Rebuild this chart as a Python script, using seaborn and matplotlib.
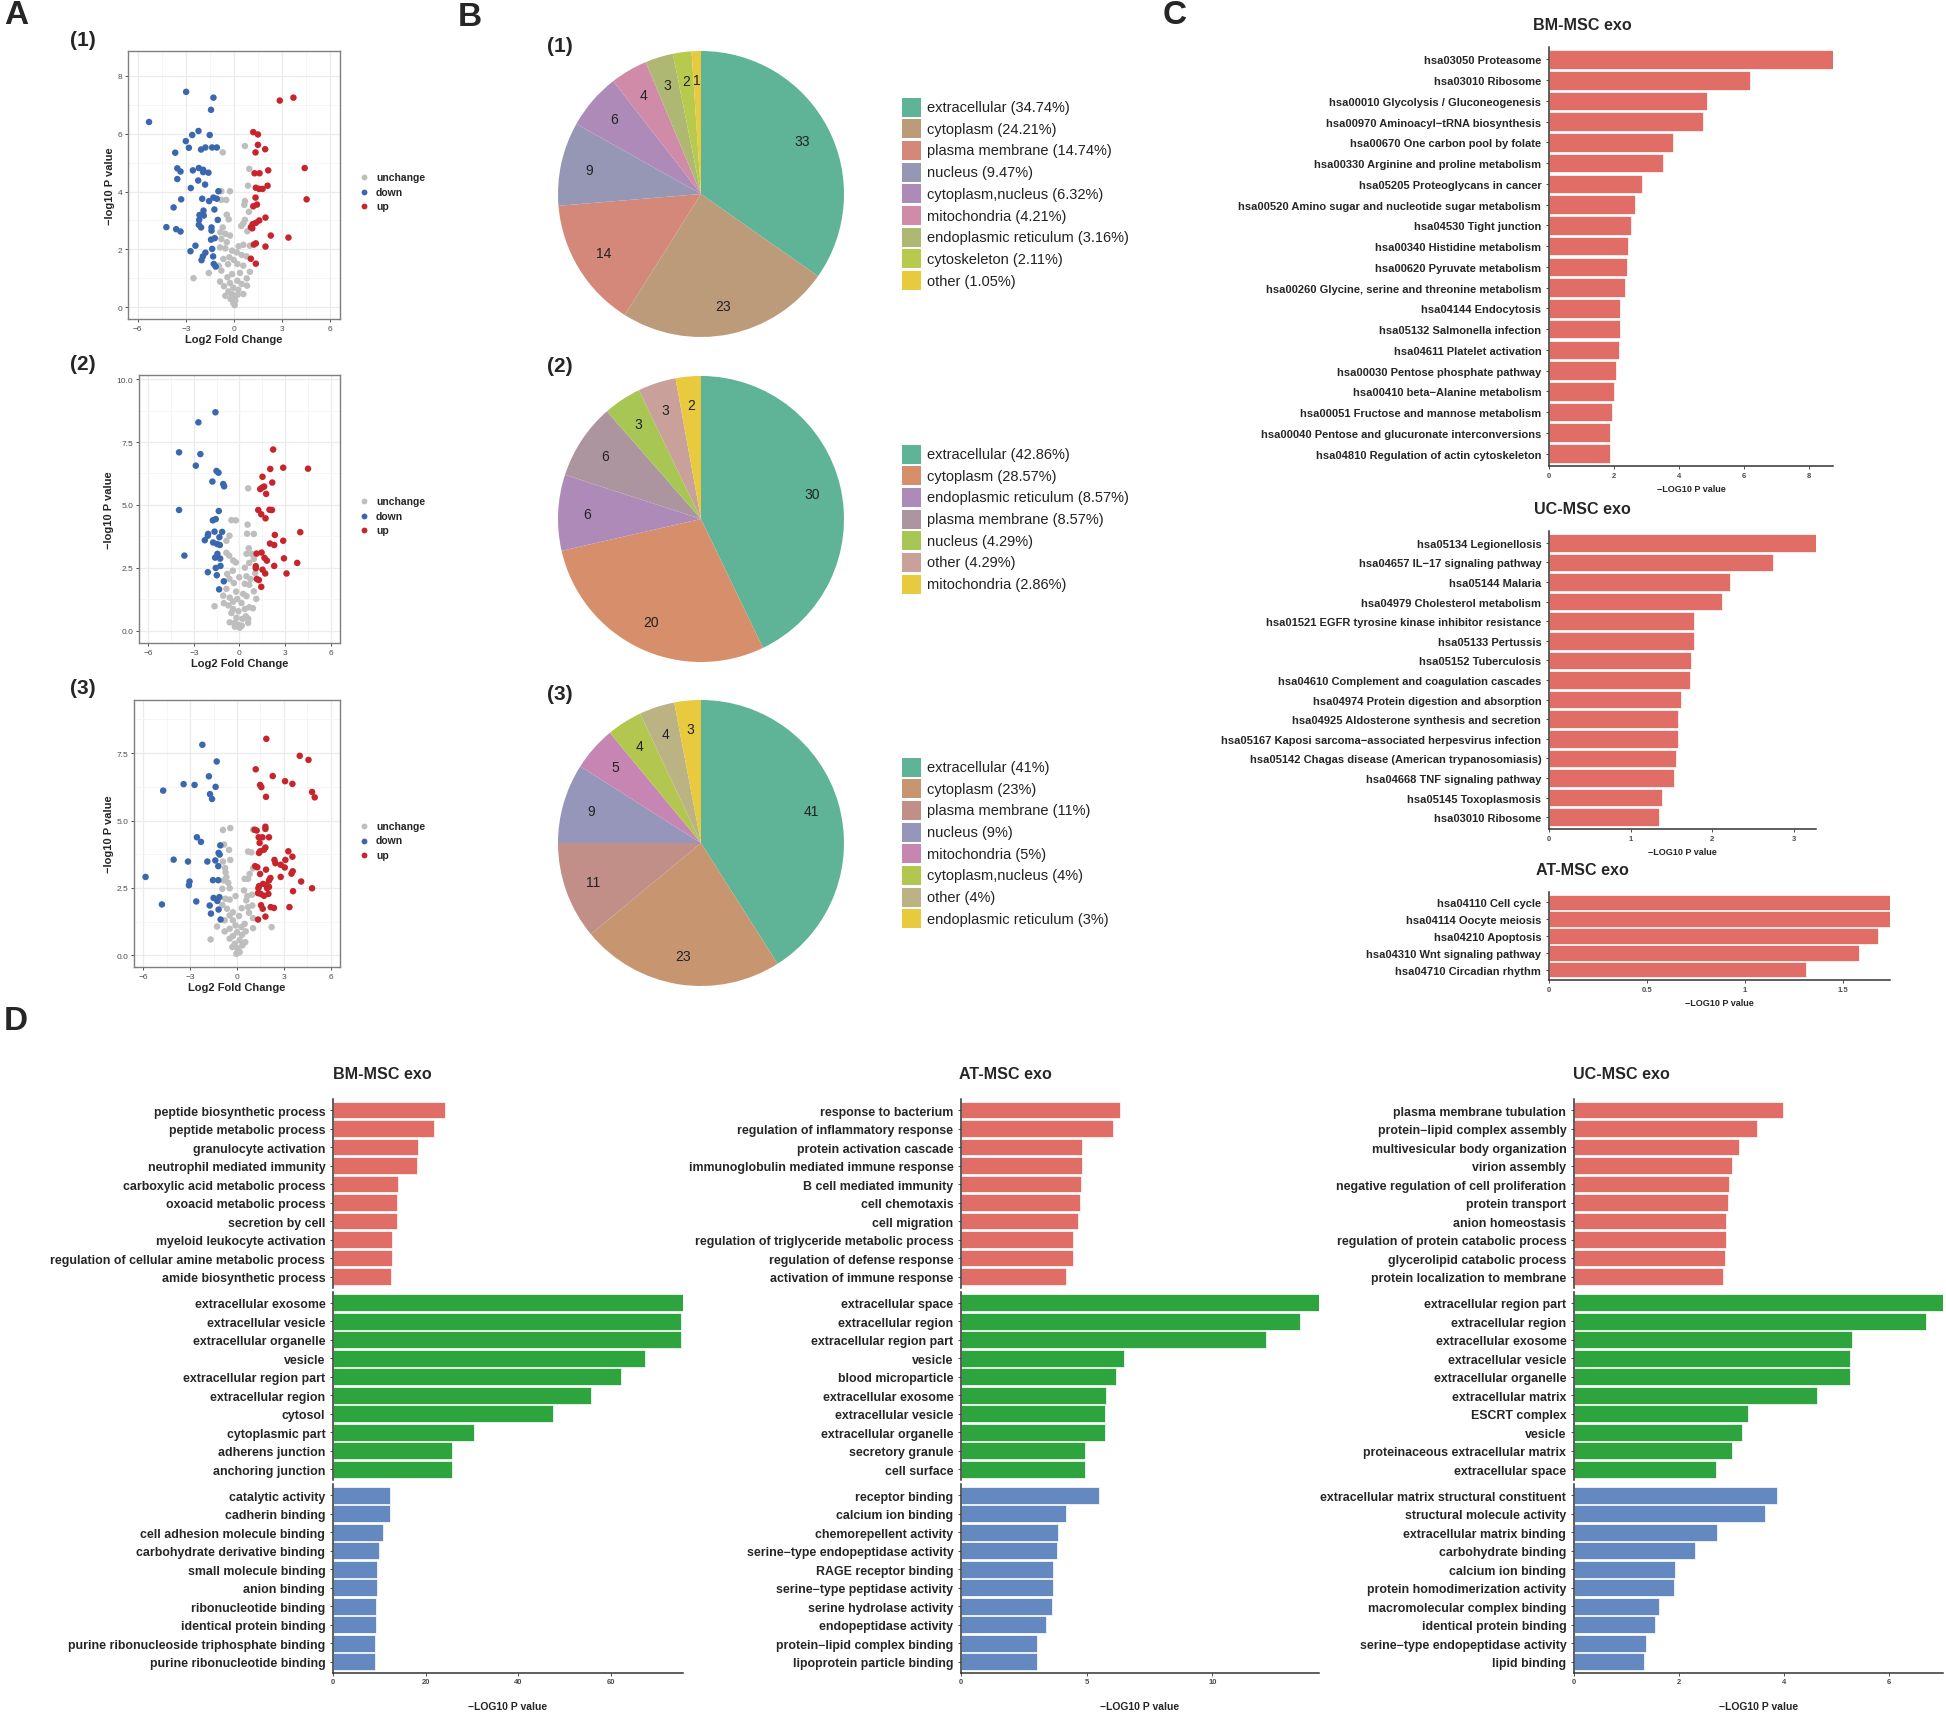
import numpy as np
import pandas as pd
import seaborn as sns
import matplotlib.pyplot as plt
from matplotlib import font_manager as fm
from matplotlib.patches import Rectangle
from matplotlib.lines import Line2D

sns.set_theme(style="white")
plt.rcParams['font.family'] = ['Liberation Sans', 'DejaVu Sans']

# a narrower face for the long category labels (Source-Sans-like latin of Noto CJK), else Arial-like
_names = {e.name for e in fm.fontManager.ttflist}
if 'Liberation Sans Narrow' in _names:
    LABEL_FAMILY = ['Liberation Sans Narrow', 'Liberation Sans', 'DejaVu Sans']
elif 'Noto Sans CJK SC' in _names:
    LABEL_FAMILY = ['Noto Sans CJK SC', 'Liberation Sans', 'DejaVu Sans']
else:
    LABEL_FAMILY = ['Liberation Sans', 'DejaVu Sans']
LABEL_FP = fm.FontProperties(family=LABEL_FAMILY, weight='bold')

# ---------------- data: volcano plots (log2FC, -log10 p) ----------------
v1_down = [(-2.98,7.44),(-1.28,7.24),(-1.43,6.82),(-5.29,6.40),(-2.21,6.09),(-2.60,5.95),(-1.51,5.95),(-3.00,5.74),
           (-2.81,5.51),(-2.05,5.45),(-1.78,5.52),(-1.36,5.52),(-1.07,5.52),(-3.66,5.34),(-3.53,4.80),(-3.33,4.69),
           (-2.56,4.73),(-2.19,4.81),(-1.92,4.75),(-1.92,4.67),(-1.59,4.65),(-3.53,4.43),(-2.23,4.38),(-1.80,4.24),
           (-2.69,4.12),(-0.97,4.01),(-3.29,3.73),(-1.98,3.75),(-1.28,3.79),(-1.55,3.67),(-1.07,3.75),(-3.76,3.45),
           (-1.22,3.38),(-1.90,3.34),(-2.15,3.19),(-1.88,3.17),(-2.17,3.02),(-1.01,3.02),(-4.21,2.77),(-3.60,2.70),
           (-3.33,2.62),(-2.19,2.85),(-2.05,2.76),(-1.40,2.76),(-1.40,2.65),(-1.20,2.39),(-1.43,2.34),(-2.40,2.13),
           (-1.36,2.02),(-2.71,1.94),(-1.78,1.89),(-1.94,1.76),(-1.30,1.76),(-2.02,1.63),(-1.26,1.50),(-1.14,1.41)]
v1_up = [(2.85,7.14),(3.70,7.24),(1.20,6.05),(1.49,5.97),(1.49,5.61),(1.94,5.46),(1.34,5.35),(4.40,4.81),
         (2.13,4.73),(1.28,4.63),(1.59,4.63),(2.09,4.20),(1.36,4.13),(1.57,4.09),(1.78,4.09),(4.52,3.73),
         (1.34,3.79),(1.43,3.55),(1.20,3.49),(1.96,3.10),(1.57,3.00),(1.36,2.92),(1.16,2.87),(1.05,2.77),
         (1.14,2.73),(2.29,2.48),(3.39,2.41),(1.36,2.21),(1.24,2.17),(1.96,2.10),(1.05,1.68),(1.36,1.51)]
v1_flat = [(0.68,5.57),(-0.70,5.35),(0.95,4.78),(0.87,4.20),(-0.79,4.01),(-0.25,4.01),(-0.79,3.71),(-0.48,3.71),
           (0.68,3.67),(0.64,3.54),(0.93,3.30),(-0.45,3.20),(-0.33,3.04),(0.68,3.02),(0.58,2.90),(0.45,2.81),
           (-0.70,2.76),(0.83,2.63),(-0.85,2.59),(-0.54,2.54),(-0.25,2.48),(-0.79,2.36),(-0.45,2.25),(0.99,2.13),
           (0.58,2.16),(0.29,2.11),(-0.87,2.07),(-0.54,2.04),(-0.12,1.96),(0.17,1.90),(0.48,1.81),(0.79,1.76),
           (-0.29,1.73),(-0.66,1.67),(-0.02,1.64),(-0.95,1.44),(-0.37,1.49),(0.21,1.50),(0.58,1.44),(-0.79,1.27),
           (0.99,1.23),(-1.57,1.19),(0.37,1.19),(-0.12,1.15),(-0.41,1.04),(0.79,1.00),(-2.52,1.01),(-0.87,0.89),
           (0.21,0.92),(-0.25,0.84),(0.48,0.81),(0.81,0.75),(-0.62,0.73),(-0.04,0.68),(0.27,0.61),(-0.35,0.55),
           (0.58,0.46),(-0.54,0.40),(-0.04,0.35),(-0.21,0.29),(0.08,0.23),(-0.04,0.15),(0.04,0.08),(-0.14,0.46),
           (0.21,0.43)]

v2_down = [(-1.58,8.68),(-2.70,8.28),(-3.97,7.09),(-2.57,7.02),(-2.87,6.56),(-1.51,6.35),(-1.38,6.28),(-1.78,5.93),
           (-1.07,5.83),(-1.01,5.74),(-3.97,4.80),(-1.36,4.76),(-1.75,4.39),(-1.56,4.44),(-1.64,3.94),(-1.14,3.93),
           (-2.06,3.85),(-2.08,3.78),(-1.32,3.72),(-2.28,3.60),(-1.73,3.51),(-1.47,3.45),(-1.29,3.41),(-1.45,3.06),
           (-3.62,2.99),(-1.60,2.91),(-1.27,2.87),(-1.25,2.58),(-1.56,2.50),(-2.08,2.33),(-1.49,2.21),(-1.03,1.97),
           (-1.34,1.65)]
v2_up = [(2.21,7.20),(2.02,6.43),(2.87,6.48),(4.50,6.44),(1.51,6.12),(2.15,5.89),(1.36,5.63),(1.49,5.69),
         (1.62,5.73),(1.75,5.44),(1.23,4.80),(1.97,4.81),(2.13,4.80),(1.43,4.63),(1.71,4.47),(3.99,3.92),
         (2.32,3.81),(2.87,3.58),(2.00,3.47),(2.28,3.41),(1.12,3.07),(1.45,3.11),(1.64,2.90),(1.80,2.79),
         (2.92,2.88),(3.79,2.70),(1.07,2.57),(1.07,2.49),(1.51,2.43),(2.28,2.58),(1.69,2.28),(3.09,2.28),
         (1.14,2.06),(1.27,2.02),(1.43,1.75)]
v2_flat = [(0.57,5.66),(-0.53,4.40),(-0.24,4.39),(0.53,4.22),(0.50,3.86),(0.94,3.85),(-0.66,3.78),(-0.86,3.58),
           (0.61,3.28),(-0.86,3.10),(0.46,3.06),(0.79,3.06),(-0.68,2.99),(0.94,2.86),(-0.42,2.80),(-0.24,2.72),
           (0.64,2.70),(0.35,2.51),(-0.44,2.39),(-0.81,2.26),(1.03,2.29),(0.46,2.17),(-0.02,2.13),(-0.66,2.06),
           (0.72,2.06),(-0.37,1.90),(0.35,1.87),(0.64,1.83),(-0.86,1.67),(0.94,1.57),(-0.22,1.56),(0.24,1.47),
           (-1.07,1.40),(-0.64,1.32),(0.46,1.38),(-0.15,1.27),(1.10,1.27),(-0.42,1.16),(0.13,1.11),(-1.03,1.10),
           (-1.64,0.98),(-0.72,1.01),(0.64,0.94),(0.35,0.87),(0.88,0.90),(-0.42,0.87),(-0.07,0.78),(-0.53,0.71),
           (0.42,0.58),(-0.20,0.52),(0.20,0.48),(0.57,0.48),(-0.64,0.34),(0.57,0.32),(-0.31,0.32),(-0.09,0.24),
           (0.15,0.21),(-0.31,0.17),(0.02,0.13)]

v3_down = [(-2.22,7.81),(-1.30,7.19),(-1.80,6.64),(-4.73,6.11),(-3.42,6.35),(-2.72,6.32),(-1.37,6.25),(-1.73,5.98),
           (-1.60,5.80),(-2.57,4.38),(-2.31,4.21),(-1.07,4.08),(-1.18,3.80),(-1.11,3.74),(-4.06,3.55),(-3.14,3.48),
           (-1.90,3.48),(-1.39,3.52),(-1.20,3.31),(-5.86,2.91),(-3.04,2.74),(-3.08,2.60),(-1.54,2.79),(-1.20,2.79),
           (-1.50,2.13),(-1.13,2.16),(-1.26,2.02),(-2.61,2.00),(-4.81,1.89),(-1.75,1.85),(-1.18,1.70),(-1.67,1.55),
           (-1.05,1.33)]
v3_up = [(1.88,8.03),(4.02,7.40),(4.58,7.25),(1.20,6.90),(2.29,6.65),(3.08,6.46),(3.55,6.36),(1.48,6.32),
         (1.56,6.24),(4.81,6.06),(4.98,5.86),(1.86,5.88),(1.82,4.77),(1.82,4.69),(1.13,4.66),(1.26,4.63),
         (1.39,4.38),(1.63,4.38),(2.05,4.38),(1.45,4.17),(1.82,4.00),(1.73,3.92),(1.48,3.86),(1.41,3.80),
         (3.29,3.86),(3.55,3.66),(2.40,3.54),(3.10,3.54),(2.46,3.42),(2.80,3.36),(3.06,3.26),(1.16,3.31),
         (1.30,3.27),(1.86,3.18),(3.57,3.12),(3.49,3.03),(1.48,3.02),(2.80,2.91),(2.14,2.87),(2.05,2.78),
         (4.11,2.74),(1.67,2.65),(1.88,2.62),(1.41,2.57),(2.05,2.54),(1.37,2.49),(4.81,2.49),(1.93,2.49),
         (3.59,2.38),(1.35,2.31),(1.52,2.28),(2.01,2.28),(1.73,2.21),(1.54,1.86),(1.65,1.73),(2.16,1.79),
         (2.37,1.76),(3.36,1.79),(1.82,1.44),(1.35,1.33)]
v3_flat = [(-0.43,4.72),(-0.90,4.65),(1.03,4.66),(-0.83,4.11),(-0.51,3.91),(0.71,3.85),(0.92,3.82),(-0.90,3.48),
           (-0.43,3.54),(-0.77,3.24),(1.03,3.23),(-0.73,3.08),(-0.68,2.90),(0.81,3.02),(0.49,2.84),(-0.86,2.78),
           (-0.56,2.69),(0.71,2.84),(-0.47,2.49),(-0.94,2.47),(0.45,2.41),(-0.09,2.20),(0.66,2.20),(0.96,2.25),
           (-0.75,2.10),(-0.47,2.07),(0.60,2.04),(-0.94,1.87),(0.30,1.75),(0.71,1.79),(0.98,1.85),(-0.64,1.73),
           (-0.26,1.60),(0.77,1.58),(-0.47,1.48),(0.13,1.46),(1.03,1.38),(-0.79,1.30),(-0.26,1.30),(0.49,1.17),
           (-1.28,1.07),(2.22,1.05),(-0.09,1.11),(0.28,1.05),(1.03,1.01),(-0.47,0.99),(-0.79,0.89),(0.56,0.89),
           (0.00,0.86),(0.32,0.76),(-0.26,0.72),(-1.69,0.59),(-0.47,0.62),(0.17,0.56),(0.53,0.49),(-0.15,0.43),
           (0.34,0.37),(0.00,0.27),(0.09,0.19),(-0.04,0.06),(0.17,0.12),(-0.30,0.31)]

# ---------------- data: subcellular location pies ----------------
pie1_names = ["extracellular", "cytoplasm", "plasma membrane", "nucleus", "cytoplasm,nucleus",
              "mitochondria", "endoplasmic reticulum", "cytoskeleton", "other"]
pie1_counts = [33, 23, 14, 9, 6, 4, 3, 2, 1]
pie1_pct = ["34.74%", "24.21%", "14.74%", "9.47%", "6.32%", "4.21%", "3.16%", "2.11%", "1.05%"]
pie1_colors = ["#5FB396", "#BC9B7A", "#D4887A", "#9597B5", "#AE8AB8", "#CF8BA8", "#AEB872", "#B8CA4E", "#E9C93E"]

pie2_names = ["extracellular", "cytoplasm", "endoplasmic reticulum", "plasma membrane", "nucleus",
              "other", "mitochondria"]
pie2_counts = [30, 20, 6, 6, 3, 3, 2]
pie2_pct = ["42.86%", "28.57%", "8.57%", "8.57%", "4.29%", "4.29%", "2.86%"]
pie2_colors = ["#5FB396", "#D78E6B", "#AE8AB8", "#AC959E", "#A7C654", "#C9A09A", "#E9C93E"]

pie3_names = ["extracellular", "cytoplasm", "plasma membrane", "nucleus", "mitochondria",
              "cytoplasm,nucleus", "other", "endoplasmic reticulum"]
pie3_counts = [41, 23, 11, 9, 5, 4, 4, 3]
pie3_pct = ["41%", "23%", "11%", "9%", "5%", "4%", "4%", "3%"]
pie3_colors = ["#5FB396", "#C79671", "#C28E88", "#9596BA", "#C685B2", "#B2C650", "#BBB384", "#E9C93E"]

# ---------------- data: KEGG ----------------
kegg_bm_terms = ["hsa03050 Proteasome", "hsa03010 Ribosome", "hsa00010 Glycolysis / Gluconeogenesis",
                 "hsa00970 Aminoacyl\u2212tRNA biosynthesis", "hsa00670 One carbon pool by folate",
                 "hsa00330 Arginine and proline metabolism", "hsa05205 Proteoglycans in cancer",
                 "hsa00520 Amino sugar and nucleotide sugar metabolism", "hsa04530 Tight junction",
                 "hsa00340 Histidine metabolism", "hsa00620 Pyruvate metabolism",
                 "hsa00260 Glycine, serine and threonine metabolism", "hsa04144 Endocytosis",
                 "hsa05132 Salmonella infection", "hsa04611 Platelet activation",
                 "hsa00030 Pentose phosphate pathway", "hsa00410 beta\u2212Alanine metabolism",
                 "hsa00051 Fructose and mannose metabolism", "hsa00040 Pentose and glucuronate interconversions",
                 "hsa04810 Regulation of actin cytoskeleton"]
kegg_bm_vals = [8.74, 6.18, 4.86, 4.73, 3.82, 3.51, 2.86, 2.66, 2.53, 2.44,
                2.39, 2.33, 2.20, 2.19, 2.14, 2.07, 1.99, 1.95, 1.89, 1.89]

kegg_uc_terms = ["hsa05134 Legionellosis", "hsa04657 IL\u221217 signaling pathway", "hsa05144 Malaria",
                 "hsa04979 Cholesterol metabolism", "hsa01521 EGFR tyrosine kinase inhibitor resistance",
                 "hsa05133 Pertussis", "hsa05152 Tuberculosis", "hsa04610 Complement and coagulation cascades",
                 "hsa04974 Protein digestion and absorption", "hsa04925 Aldosterone synthesis and secretion",
                 "hsa05167 Kaposi sarcoma\u2212associated herpesvirus infection",
                 "hsa05142 Chagas disease (American trypanosomiasis)", "hsa04668 TNF signaling pathway",
                 "hsa05145 Toxoplasmosis", "hsa03010 Ribosome"]
kegg_uc_vals = [3.27, 2.74, 2.22, 2.12, 1.77, 1.77, 1.74, 1.73, 1.62, 1.58, 1.58, 1.56, 1.53, 1.39, 1.35]

kegg_at_terms = ["hsa04110 Cell cycle", "hsa04114 Oocyte meiosis", "hsa04210 Apoptosis",
                 "hsa04310 Wnt signaling pathway", "hsa04710 Circadian rhythm"]
kegg_at_vals = [1.74, 1.74, 1.68, 1.58, 1.31]

# ---------------- data: GO (BP / CC / MF) ----------------
go_bm_bp = ["peptide biosynthetic process", "peptide metabolic process", "granulocyte activation",
            "neutrophil mediated immunity", "carboxylic acid metabolic process", "oxoacid metabolic process",
            "secretion by cell", "myeloid leukocyte activation", "regulation of cellular amine metabolic process",
            "amide biosynthetic process"]
go_bm_bp_vals = [24.2, 21.8, 18.4, 18.1, 14.1, 13.8, 13.7, 12.8, 12.7, 12.6]
go_bm_cc = ["extracellular exosome", "extracellular vesicle", "extracellular organelle", "vesicle",
            "extracellular region part", "extracellular region", "cytosol", "cytoplasmic part",
            "adherens junction", "anchoring junction"]
go_bm_cc_vals = [75.5, 75.0, 75.0, 67.2, 62.2, 55.7, 47.5, 30.5, 25.7, 25.7]
go_bm_mf = ["catalytic activity", "cadherin binding", "cell adhesion molecule binding",
            "carbohydrate derivative binding", "small molecule binding", "anion binding",
            "ribonucleotide binding", "identical protein binding",
            "purine ribonucleoside triphosphate binding", "purine ribonucleotide binding"]
go_bm_mf_vals = [12.2, 12.2, 10.7, 10.0, 9.5, 9.4, 9.3, 9.2, 9.15, 9.15]

go_at_bp = ["response to bacterium", "regulation of inflammatory response", "protein activation cascade",
            "immunoglobulin mediated immune response", "B cell mediated immunity", "cell chemotaxis",
            "cell migration", "regulation of triglyceride metabolic process", "regulation of defense response",
            "activation of immune response"]
go_at_bp_vals = [6.32, 6.05, 4.82, 4.82, 4.79, 4.72, 4.64, 4.46, 4.46, 4.19]
go_at_cc = ["extracellular space", "extracellular region", "extracellular region part", "vesicle",
            "blood microparticle", "extracellular exosome", "extracellular vesicle", "extracellular organelle",
            "secretory granule", "cell surface"]
go_at_cc_vals = [14.24, 13.5, 12.15, 6.48, 6.15, 5.76, 5.71, 5.71, 4.93, 4.92]
go_at_mf = ["receptor binding", "calcium ion binding", "chemorepellent activity",
            "serine\u2212type endopeptidase activity", "RAGE receptor binding", "serine\u2212type peptidase activity",
            "serine hydrolase activity", "endopeptidase activity", "protein\u2212lipid complex binding",
            "lipoprotein particle binding"]
go_at_mf_vals = [5.49, 4.19, 3.85, 3.83, 3.67, 3.65, 3.63, 3.37, 3.01, 3.01]

go_uc_bp = ["plasma membrane tubulation", "protein\u2212lipid complex assembly", "multivesicular body organization",
            "virion assembly", "negative regulation of cell proliferation", "protein transport",
            "anion homeostasis", "regulation of protein catabolic process", "glycerolipid catabolic process",
            "protein localization to membrane"]
go_uc_bp_vals = [3.98, 3.49, 3.15, 3.01, 2.96, 2.93, 2.90, 2.89, 2.88, 2.84]
go_uc_cc = ["extracellular region part", "extracellular region", "extracellular exosome", "extracellular vesicle",
            "extracellular organelle", "extracellular matrix", "ESCRT complex", "vesicle",
            "proteinaceous extracellular matrix", "extracellular space"]
go_uc_cc_vals = [7.03, 6.71, 5.29, 5.26, 5.26, 4.63, 3.32, 3.21, 3.01, 2.70]
go_uc_mf = ["extracellular matrix structural constituent", "structural molecule activity",
            "extracellular matrix binding", "carbohydrate binding", "calcium ion binding",
            "protein homodimerization activity", "macromolecular complex binding", "identical protein binding",
            "serine\u2212type endopeptidase activity", "lipid binding"]
go_uc_mf_vals = [3.87, 3.64, 2.73, 2.30, 1.93, 1.90, 1.62, 1.55, 1.37, 1.33]

RED, GREEN, BLUE = "#E06E66", "#2DA43E", "#6489C1"
vol_colors = {"unchange": "#BEBEBE", "down": "#3A67AE", "up": "#C8242B"}

# ---------------- figure ----------------
W, H = 1946, 1715
fig = plt.figure(figsize=(W / 100, H / 100), dpi=100)
renderer = fig.canvas.get_renderer()


def px_axes(x0, y0, x1, y1):
    return fig.add_axes([x0 / W, 1 - y1 / H, (x1 - x0) / W, (y1 - y0) / H])


def px_text(x, y, s, **kw):
    fig.text(x / W, 1 - y / H, s, **kw)


def fit_font(sample, width_px):
    # font size so that `sample` is about width_px wide, like the reference
    fp = LABEL_FP.copy()
    fp.set_size(10)
    t = fig.text(0, 0, sample, fontproperties=fp)
    w = t.get_window_extent(renderer=renderer).width
    t.remove()
    fp.set_size(10 * width_px / w)
    return fp


KEGG_FP = fit_font("hsa00520 Amino sugar and nucleotide sugar metabolism", 300)
GO_FP = fit_font("regulation of cellular amine metabolic process", 272)
TITLE_FP = fit_font("BM-MSC exo", 98)

# panel letters
for letter, (lx, ly) in {"A": (4, 16), "B": (458, 18), "C": (1163, 16), "D": (4, 1022)}.items():
    px_text(lx, ly, letter, fontsize=24, fontweight="bold", ha="left", va="center")


# ---- A: volcano plots ----
def volcano(box, flat, down, up, ylim, yticks, ytl, yminor, tag, tag_y, leg_y):
    ax = px_axes(*box)
    pts = flat + down + up
    df = pd.DataFrame(pts, columns=["lfc", "logp"])
    df["group"] = ["unchange"] * len(flat) + ["down"] * len(down) + ["up"] * len(up)
    sns.scatterplot(data=df, x="lfc", y="logp", hue="group", palette=vol_colors, s=22,
                    linewidth=0, ax=ax, legend=False, zorder=3)
    ax.set_xlim(-6.6, 6.6)
    ax.set_ylim(*ylim)
    ax.set_xticks([-6, -3, 0, 3, 6])
    ax.set_xticklabels(["\u22126", "\u22123", "0", "3", "6"])
    ax.set_xticks([-4.5, -1.5, 1.5, 4.5], minor=True)
    ax.set_yticks(yticks)
    ax.set_yticklabels(ytl)
    ax.set_yticks(yminor, minor=True)
    ax.grid(which="major", color="#EBEBEB", lw=0.9)
    ax.grid(which="minor", color="#F3F3F3", lw=0.5)
    ax.set_axisbelow(True)
    ax.tick_params(which="major", labelsize=6, labelcolor="#4D4D4D", length=2.5, width=0.6,
                   color="#333333", pad=1.5, left=True, bottom=True)
    ax.tick_params(which="minor", length=0)
    for sp in ax.spines.values():
        sp.set_color("#7F7F7F")
        sp.set_linewidth(1.0)
    ax.set_xlabel("Log2 Fold Change", fontsize=8, fontweight="bold", labelpad=2)
    ax.set_ylabel("\u2212log10 P value", fontsize=8, fontweight="bold", labelpad=2)
    px_text(70, tag_y, f"({tag})", fontsize=15, fontweight="bold", ha="left", va="center")
    for i, g in enumerate(["unchange", "down", "up"]):
        yy = leg_y + i * 14.5
        fig.add_artist(Line2D([364 / W], [1 - yy / H], marker="o", ls="", markersize=4.2,
                              markeredgewidth=0, color=vol_colors[g], transform=fig.transFigure))
        px_text(376, yy, g, fontsize=7.5, fontweight="bold", ha="left", va="center")


volcano((128, 52, 340, 320), v1_flat, v1_down, v1_up, (-0.4, 8.85), [0, 2, 4, 6, 8],
        ["0", "2", "4", "6", "8"], [1, 3, 5, 7], 1, 40, 178)
volcano((139, 376, 340, 644), v2_flat, v2_down, v2_up, (-0.48, 10.16), [0, 2.5, 5, 7.5, 10],
        ["0.0", "2.5", "5.0", "7.5", "10.0"], [1.25, 3.75, 6.25, 8.75], 2, 364, 502)
volcano((134, 701, 340, 968), v3_flat, v3_down, v3_up, (-0.43, 9.47), [0, 2.5, 5, 7.5],
        ["0.0", "2.5", "5.0", "7.5"], [1.25, 3.75, 6.25, 8.75], 3, 689, 827)


# ---- B: pies ----
def pie(cx, cy, r, counts, colors, names, pct, leg_y0, tag, tag_y):
    ax = px_axes(cx - r, cy - r, cx + r, cy + r)
    ax.pie(counts, colors=colors, startangle=90, counterclock=False, radius=1,
           wedgeprops=dict(linewidth=0))
    ax.set_xlim(-1, 1)
    ax.set_ylim(-1, 1)
    total = sum(counts)
    ang = 90.0
    for c in counts:
        span = 360.0 * c / total
        mid = np.deg2rad(ang - span / 2)
        ax.text(0.8 * np.cos(mid), 0.8 * np.sin(mid), str(c), ha="center", va="center",
                fontsize=10, color="#222222")
        ang -= span
    for i, (nm, p, col) in enumerate(zip(names, pct, colors)):
        yy = leg_y0 + i * 21.7
        fig.add_artist(Rectangle((902 / W, 1 - (yy + 9.5) / H), 19 / W, 19 / H, color=col,
                                 transform=fig.transFigure, lw=0))
        px_text(927, yy, f"{nm} ({p})", fontsize=10.5, ha="left", va="center", color="#222222")
    px_text(547, tag_y, f"({tag})", fontsize=15, fontweight="bold", ha="left", va="center")


pie(701, 195, 143, pie1_counts, pie1_colors, pie1_names, pie1_pct, 108, 1, 47)
pie(701, 520, 143, pie2_counts, pie2_colors, pie2_names, pie2_pct, 455, 2, 367)
pie(701, 844, 143, pie3_counts, pie3_colors, pie3_names, pie3_pct, 768, 3, 695)


# ---- bar helpers ----
def style_bar_axis(ax, terms, xmax, xticks, xtl, label_fp, bottom=True, xl_size=6.5, xl_pad=4):
    n = len(terms)
    ax.set_ylim(n - 1 + 0.6, -0.6)
    ax.set_xlim(0, xmax)
    ax.set_xlabel("")
    ax.set_ylabel("")
    ax.set_yticks(range(n))
    ax.set_yticklabels(terms, fontproperties=label_fp)
    ax.tick_params(axis="y", length=2.5, width=0.6, color="#333333", pad=3, left=True)
    for s in ["top", "right"]:
        ax.spines[s].set_visible(False)
    ax.spines["left"].set_color("#333333")
    ax.spines["left"].set_linewidth(1.1)
    if bottom:
        ax.set_xticks(xticks)
        ax.set_xticklabels(xtl)
        ax.tick_params(axis="x", labelsize=5.5, labelcolor="#4D4D4D", length=2.5, width=0.6,
                       color="#333333", pad=1.5, bottom=True)
        for lab in ax.get_xticklabels():
            lab.set_fontweight("bold")
        ax.spines["bottom"].set_color("#333333")
        ax.spines["bottom"].set_linewidth(1.1)
        ax.set_xlabel("\u2212LOG10 P value", fontsize=xl_size, fontweight="bold", labelpad=xl_pad)
    else:
        ax.spines["bottom"].set_visible(False)
        ax.set_xticks([])


def kegg(box, terms, vals, xmax, xticks, xtl, title, title_y):
    ax = px_axes(*box)
    sns.barplot(x=vals, y=terms, color=RED, saturation=1, width=0.9, ax=ax,
                edgecolor="white", linewidth=0.5)
    style_bar_axis(ax, terms, xmax, xticks, xtl, KEGG_FP)
    px_text(1582, title_y, title, fontproperties=TITLE_FP, ha="center", va="center")


kegg((1549, 48, 1833, 467), kegg_bm_terms, kegg_bm_vals, 8.74, [0, 2, 4, 6, 8],
     ["0", "2", "4", "6", "8"], "BM-MSC exo", 25)
kegg((1549, 532, 1816, 830), kegg_uc_terms, kegg_uc_vals, 3.27, [0, 1, 2, 3],
     ["0", "1", "2", "3"], "UC-MSC exo", 509)
kegg((1549, 893, 1890, 981), kegg_at_terms, kegg_at_vals, 1.74, [0, 0.5, 1, 1.5],
     ["0", "0.5", "1", "1.5"], "AT-MSC exo", 871)


# ---- D: GO facets ----
def go_plot(x0, x1, groups, xmax, xticks, xtl, title, title_x):
    top, slot, gap = 1100, 18.5, 3.9
    for i, (terms, vals, col) in enumerate(groups):
        y0 = top + i * (10.2 * slot + gap)
        ax = px_axes(x0, y0, x1, y0 + 10.2 * slot)
        sns.barplot(x=vals, y=terms, color=col, saturation=1, width=0.9, ax=ax,
                    edgecolor="white", linewidth=0.5)
        style_bar_axis(ax, terms, xmax, xticks, xtl, GO_FP, bottom=(i == 2), xl_size=7.5, xl_pad=11)
    px_text(title_x, 1075, title, fontproperties=TITLE_FP, ha="center", va="center")


go_plot(333, 683, [(go_bm_bp, go_bm_bp_vals, RED), (go_bm_cc, go_bm_cc_vals, GREEN),
                   (go_bm_mf, go_bm_mf_vals, BLUE)], 75.5, [0, 20, 40, 60], ["0", "20", "40", "60"],
        "BM-MSC exo", 382)
go_plot(961, 1319, [(go_at_bp, go_at_bp_vals, RED), (go_at_cc, go_at_cc_vals, GREEN),
                    (go_at_mf, go_at_mf_vals, BLUE)], 14.24, [0, 5, 10], ["0", "5", "10"],
        "AT-MSC exo", 1005)
go_plot(1574, 1943, [(go_uc_bp, go_uc_bp_vals, RED), (go_uc_cc, go_uc_cc_vals, GREEN),
                     (go_uc_mf, go_uc_mf_vals, BLUE)], 7.03, [0, 2, 4, 6], ["0", "2", "4", "6"],
        "UC-MSC exo", 1621)

fig.savefig("out.png", dpi=100, facecolor="white")
